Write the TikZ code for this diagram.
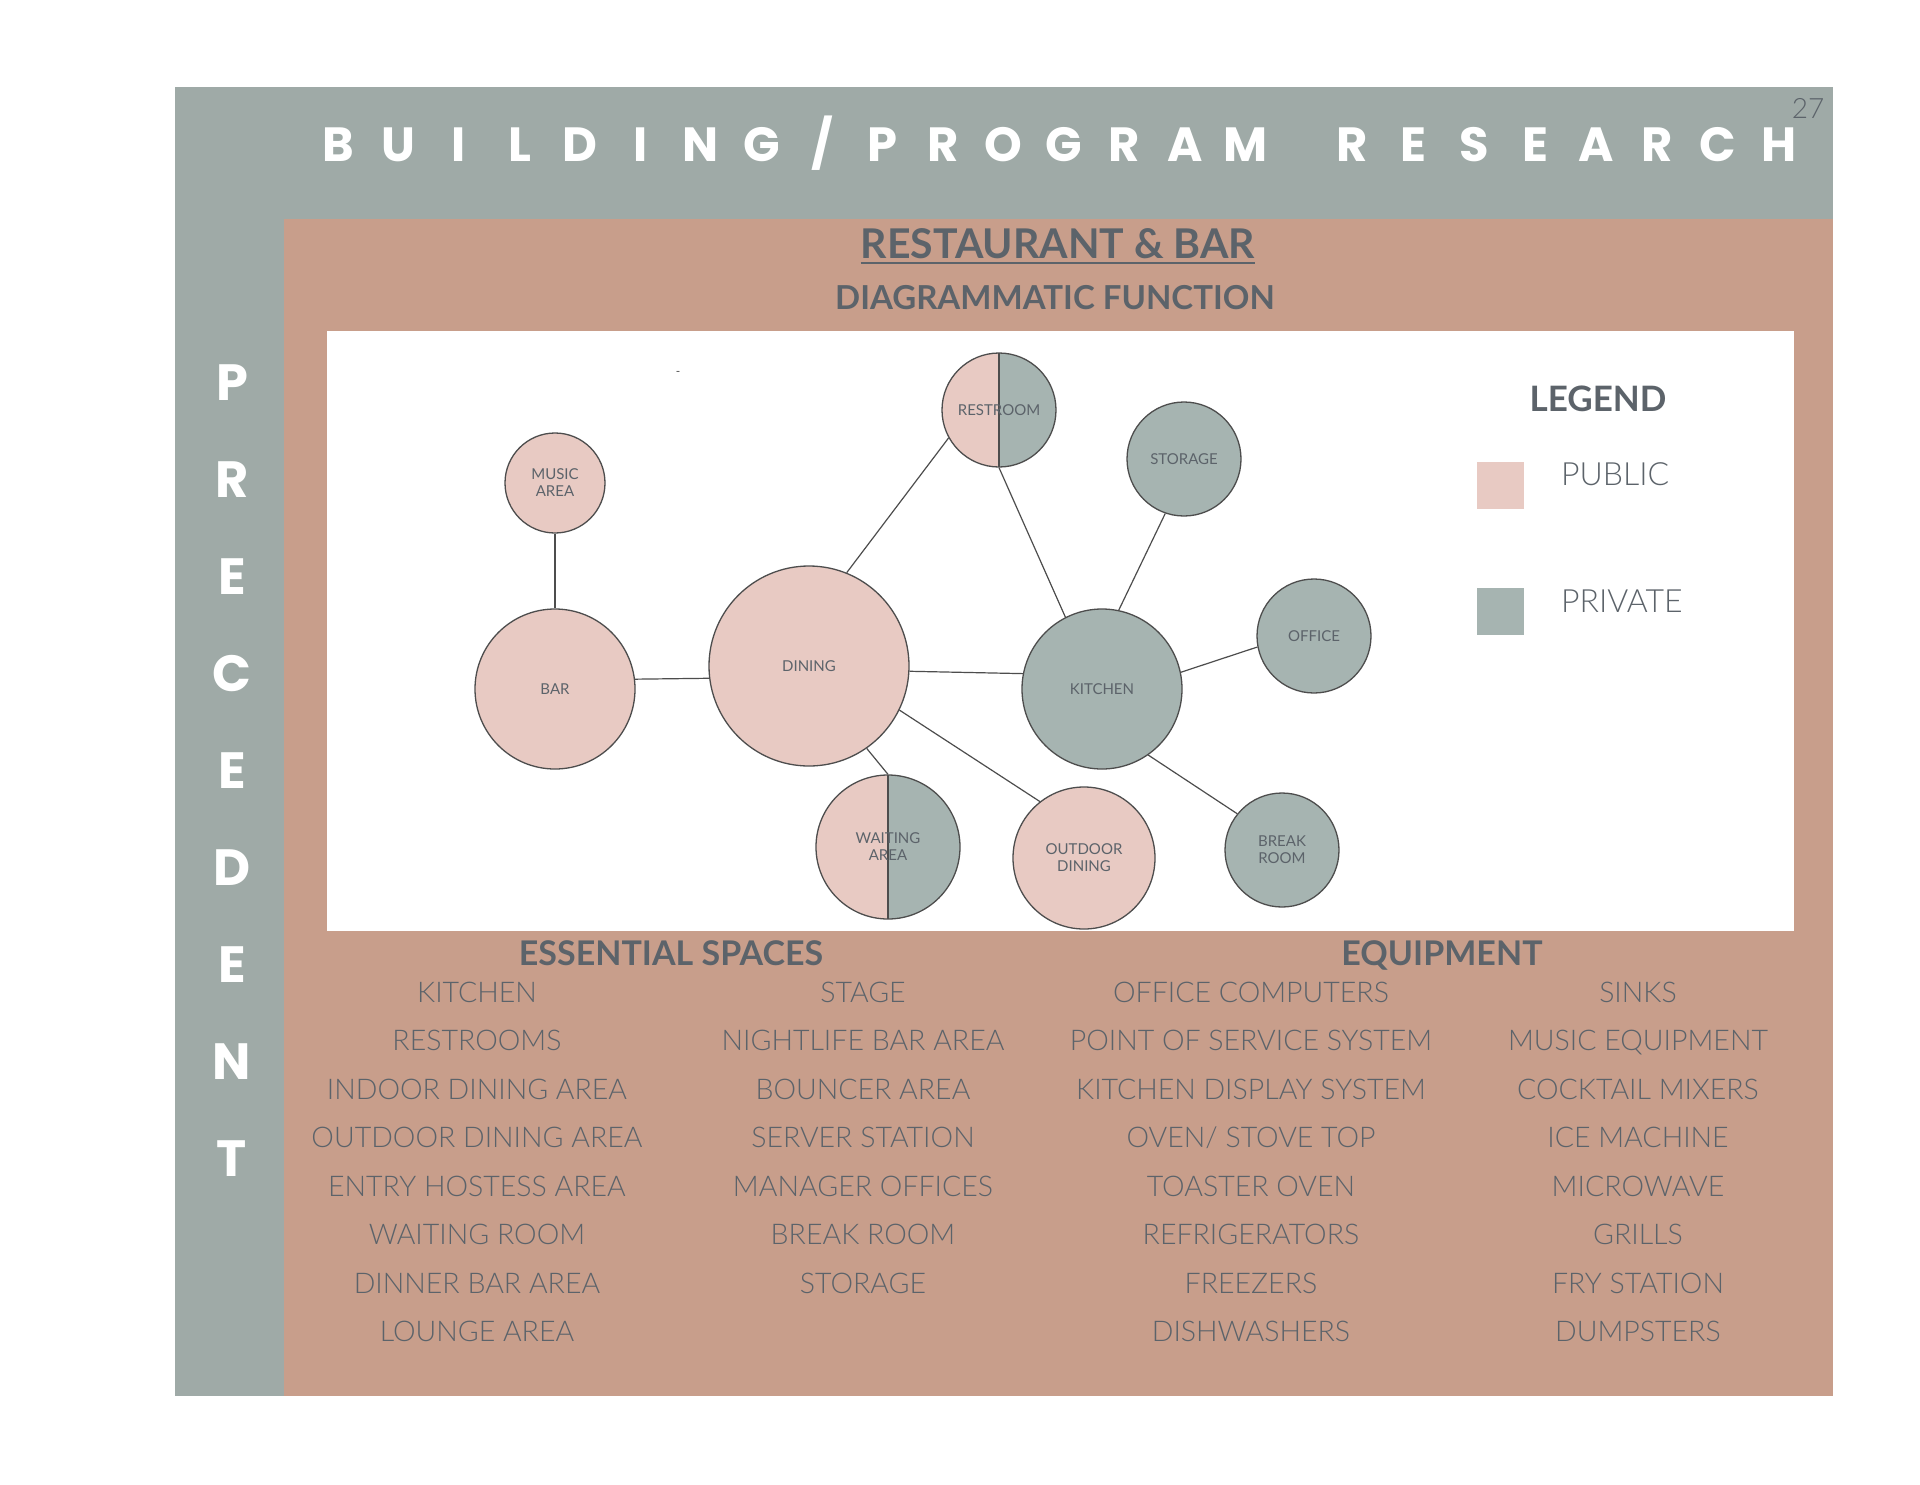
\documentclass[tikz,border=0pt]{standalone}
\usepackage{fontspec}
\setmainfont{Lato}
\newfontfamily\lightfont{Lato Light}
\newfontfamily\titlefont{Poppins}
\usetikzlibrary{positioning}
\definecolor{cstrip}{HTML}{9FAAA7}
\definecolor{csalmon}{HTML}{C89E8B}
\definecolor{cpublic}{HTML}{E8CAC3}
\definecolor{cprivate}{HTML}{A6B4B1}
\definecolor{cdark}{HTML}{5C636A}
\definecolor{cline}{HTML}{4D4D4D}
\tikzset{
  room/.style={circle, draw=cline, fill=#1, line width=1.3pt, inner sep=0pt, align=center,
    text=cdark, font=\fontsize{15}{17}\selectfont},
  room/.default=cpublic,
  split/.style={path picture={
    \fill[cprivate] (path picture bounding box.north) rectangle (path picture bounding box.south east);
    \draw[cline, line width=1.3pt] (path picture bounding box.north) -- (path picture bounding box.south);}},
  link/.style={draw=cline, line width=1.2pt},
  letter/.style={text=white, anchor=base, inner sep=0pt, font=\titlefont\bfseries\fontsize{48}{48}\selectfont},
  heading/.style={text=cdark, anchor=base, inner sep=0pt, font=\bfseries\fontsize{34}{34}\selectfont},
  item/.style={text=cdark, anchor=base, inner sep=0pt, font=\lightfont\fontsize{28.5}{28.5}\selectfont},
  swatch/.style={minimum size=47pt, inner sep=0pt, fill=#1},
}

\begin{document}
\begin{tikzpicture}[x=1pt, y=-1pt]
  \useasboundingbox (0,0) rectangle (1920,1484);
  \fill[white] (0,0) rectangle (1920,1484);
  \fill[cstrip] (175,87) rectangle (1833,1396);
  \fill[csalmon] (284,219) rectangle (1833,1396);
  \fill[white] (327,331) rectangle (1794,931);

  % header
  \foreach \ch [count=\i from 0] in {B,U,I,L,D,I,N,G,/,P,R,O,G,R,A,M}
    \node[letter] (ta\i) at (338+60.5*\i, 161) {\ch};
  \foreach \ch [count=\i from 0] in {R,E,S,E,A,R,C,H}
    \node[letter] (tb\i) at (1352+61*\i, 161) {\ch};
  \node[text=cdark, anchor=base, inner sep=0pt, font=\lightfont\fontsize{28}{28}\selectfont] (pageno) at (1808,118) {27};
  \foreach \ch [count=\i from 0] in {P,R,E,C,E,D,E,N,T}
    \node[letter, font=\titlefont\bfseries\fontsize{51}{51}\selectfont] (pr\i) at (232, 400+97*\i) {\ch};

  \node[heading, font=\bfseries\fontsize{41}{41}\selectfont] (restaurant) at (1058,258) {RESTAURANT \& BAR};
  \draw[cdark, line width=2.5pt] ([yshift=-5pt]restaurant.base west) -- ([yshift=-5pt]restaurant.base east);
  \node[heading, font=\bfseries\fontsize{33}{33}\selectfont] (function) at (1055,309) {DIAGRAMMATIC FUNCTION};

  % bubble diagram
  \node[text=cline, font=\fontsize{12}{12}\selectfont] (dash) at (678,373) {-};
  \node[room, minimum size=100pt] (music) at (555,483) {MUSIC\\AREA};
  \node[room, minimum size=160pt] (bar) at (555,689) {BAR};
  \node[room, minimum size=200pt] (dining) at (809,666) {DINING};
  \node[room, split, minimum size=114pt] (restroom) at (999,410) {RESTROOM};
  \node[room, split, minimum size=144pt] (waiting) at (888,847) {WAITING\\AREA};
  \node[room=cprivate, minimum size=160pt] (kitchen) at (1102,689) {KITCHEN};
  \node[room=cprivate, minimum size=114pt] (storage) at (1184,459) {STORAGE};
  \node[room=cprivate, minimum size=114pt] (office) at (1314,636) {OFFICE};
  \node[room=cprivate, minimum size=114pt] (breakroom) at (1282,850) {BREAK\\ROOM};
  \node[room, minimum size=142pt] (outdoor) at (1084,858) {OUTDOOR\\DINING};

  \draw[link] (music.south) -- (bar.north);
  \draw[link] (bar.7) -- (dining.187);
  \draw[link] (dining.68) -- (restroom.209);
  \draw[link] (restroom.south) -- (kitchen.117);
  \draw[link] (storage.251) -- (kitchen.78);
  \draw[link] (dining.357) -- (kitchen.169);
  \draw[link] (kitchen.12) -- (office.191);
  \draw[link] (kitchen.305) -- (breakroom.141);
  \draw[link] (dining.334) -- (outdoor.128);
  \draw[link] (dining.305) -- (waiting.north);

  % legend
  \node[heading, font=\bfseries\fontsize{35}{35}\selectfont] (legend) at (1598,411) {LEGEND};
  \node[swatch=cpublic] (pubsq) at (1500.5,485.5) {};
  \node[swatch=cprivate] (privsq) at (1500.5,611.5) {};
  \node[item, font=\lightfont\fontsize{32}{32}\selectfont, anchor=base west] (pubtxt) at (1561,485) {PUBLIC};
  \node[item, font=\lightfont\fontsize{32}{32}\selectfont, anchor=base west] (privtxt) at (1561,612) {PRIVATE};

  % lists
  \node[heading] (spaces) at (671,965) {ESSENTIAL SPACES};
  \node[heading] (equip) at (1442,965) {EQUIPMENT};
  \foreach \txt [count=\i from 0] in {KITCHEN,RESTROOMS,INDOOR DINING AREA,OUTDOOR DINING AREA,ENTRY HOSTESS AREA,WAITING ROOM,DINNER BAR AREA,LOUNGE AREA}
    \node[item] (sa\i) at (477, 1002+48.5*\i) {\txt};
  \foreach \txt [count=\i from 0] in {STAGE,NIGHTLIFE BAR AREA,BOUNCER AREA,SERVER STATION,MANAGER OFFICES,BREAK ROOM,STORAGE}
    \node[item] (sb\i) at (863, 1002+48.5*\i) {\txt};
  \foreach \txt [count=\i from 0] in {OFFICE COMPUTERS,POINT OF SERVICE SYSTEM,KITCHEN DISPLAY SYSTEM,OVEN/ STOVE TOP,TOASTER OVEN,REFRIGERATORS,FREEZERS,DISHWASHERS}
    \node[item] (ea\i) at (1251, 1002+48.5*\i) {\txt};
  \foreach \txt [count=\i from 0] in {SINKS,MUSIC EQUIPMENT,COCKTAIL MIXERS,ICE MACHINE,MICROWAVE,GRILLS,FRY STATION,DUMPSTERS}
    \node[item] (eb\i) at (1638, 1002+48.5*\i) {\txt};
\end{tikzpicture}
\end{document}
